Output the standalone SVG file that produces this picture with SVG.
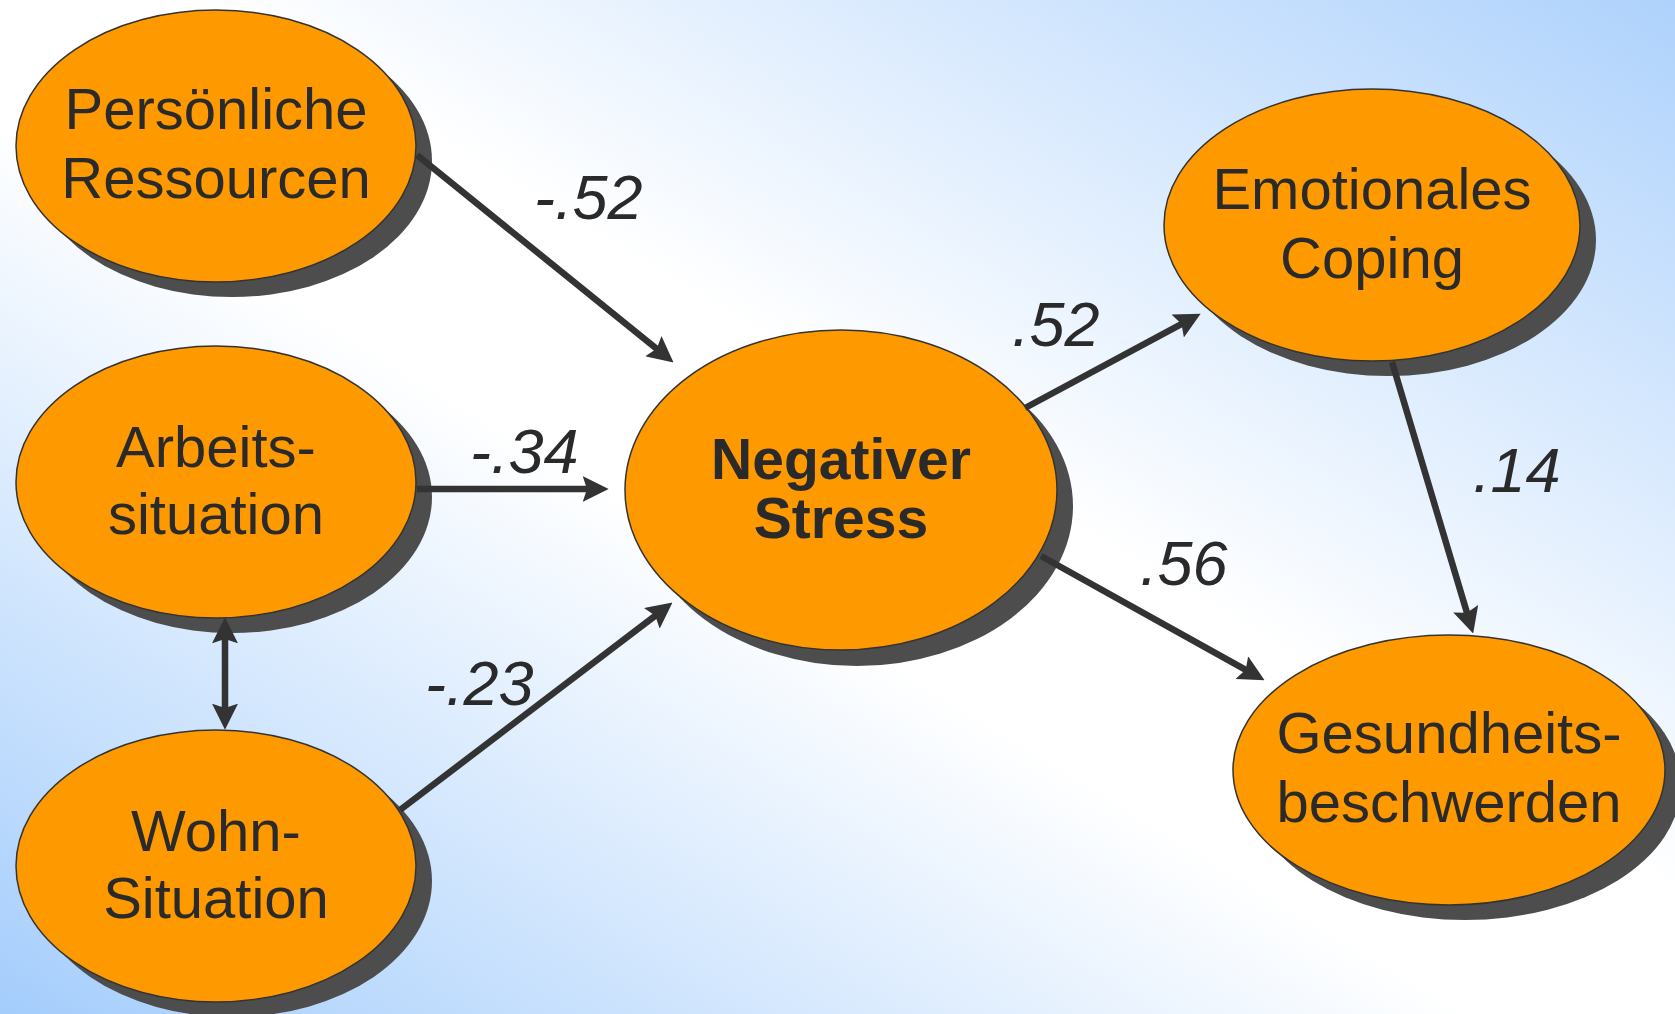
<svg xmlns="http://www.w3.org/2000/svg" width="1675" height="1014" viewBox="0 0 1675 1014">
<defs>
<linearGradient id="bg" x1="0" y1="1" x2="1" y2="0">
<stop offset="0" stop-color="#A4CDFC"/>
<stop offset="0.44" stop-color="#FFFFFF"/>
<stop offset="0.56" stop-color="#FFFFFF"/>
<stop offset="1" stop-color="#AED2FC"/>
</linearGradient>
<marker id="ah" markerUnits="userSpaceOnUse" markerWidth="26" markerHeight="26" refX="16" refY="12" orient="auto-start-reverse" viewBox="0 0 24 24">
<path d="M0,0 L24,12 L0,24 L4,12 Z" fill="#333333"/>
</marker>
<style>
.sh{fill:#4D4D4D}
.el{fill:#FF9900;stroke:#333333;stroke-width:1.5}
.t{font-family:"Liberation Sans",Arial,sans-serif;font-size:58px;fill:#2A2A2A;text-anchor:middle}
.b{font-weight:bold;font-size:57px}
.lb{font-family:"Liberation Sans",Arial,sans-serif;font-size:63px;font-style:italic;fill:#2A2A2A}
.c{stroke:#333333;stroke-width:6.5;fill:none;marker-end:url(#ah)}
</style>
</defs>
<rect width="1675" height="1014" fill="url(#bg)"/>
<g id="node-persoenliche">
<ellipse class="sh" cx="232" cy="161" rx="200" ry="136"/>
<ellipse class="el" cx="216" cy="146" rx="200" ry="136"/>
<text class="t" x="216" y="129">Persönliche</text>
<text class="t" x="216" y="198">Ressourcen</text>
</g>
<g id="node-arbeit">
<ellipse class="sh" cx="232" cy="497" rx="200" ry="136"/>
<ellipse class="el" cx="216" cy="482" rx="200" ry="136"/>
<text class="t" x="216" y="467">Arbeits-</text>
<text class="t" x="216" y="534">situation</text>
</g>
<g id="node-wohn">
<ellipse class="sh" cx="232" cy="881" rx="200" ry="136"/>
<ellipse class="el" cx="216" cy="866" rx="200" ry="136"/>
<text class="t" x="216" y="851">Wohn-</text>
<text class="t" x="216" y="918">Situation</text>
</g>
<g id="node-stress">
<ellipse class="sh" cx="857" cy="506" rx="216" ry="160"/>
<ellipse class="el" cx="841" cy="490" rx="216" ry="160"/>
<text class="t b" x="841" y="479">Negativer</text>
<text class="t b" x="841" y="538">Stress</text>
</g>
<g id="node-coping">
<ellipse class="sh" cx="1388" cy="240" rx="208" ry="136"/>
<ellipse class="el" cx="1372" cy="225" rx="208" ry="136"/>
<text class="t" x="1372" y="209">Emotionales</text>
<text class="t" x="1372" y="278">Coping</text>
</g>
<g id="node-gesundheit">
<ellipse class="sh" cx="1465" cy="785" rx="216" ry="135"/>
<ellipse class="el" cx="1449" cy="770" rx="216" ry="135"/>
<text class="t" x="1449" y="753">Gesundheits-</text>
<text class="t" x="1449" y="822">beschwerden</text>
</g>
<g id="connectors">
<line class="c" x1="417" y1="155" x2="666.8" y2="357"/>
<line class="c" x1="417" y1="489" x2="600" y2="489"/>
<line class="c" x1="400" y1="810" x2="665.6" y2="607.8"/>
<line class="c" x1="1025" y1="408" x2="1193" y2="317.8"/>
<line class="c" x1="1041" y1="556" x2="1257" y2="676.1"/>
<line class="c" x1="1392" y1="362" x2="1470.7" y2="625.3"/>
<line class="c" x1="225" y1="626" x2="225" y2="721" marker-start="url(#ah)"/>
</g>
<g id="labels">
<text class="lb" x="534" y="219">-.52</text>
<text class="lb" x="470" y="473">-.34</text>
<text class="lb" x="425" y="705">-.23</text>
<text class="lb" x="1012" y="346">.52</text>
<text class="lb" x="1140" y="585">.56</text>
<text class="lb" x="1473" y="492">.14</text>
</g>
</svg>
